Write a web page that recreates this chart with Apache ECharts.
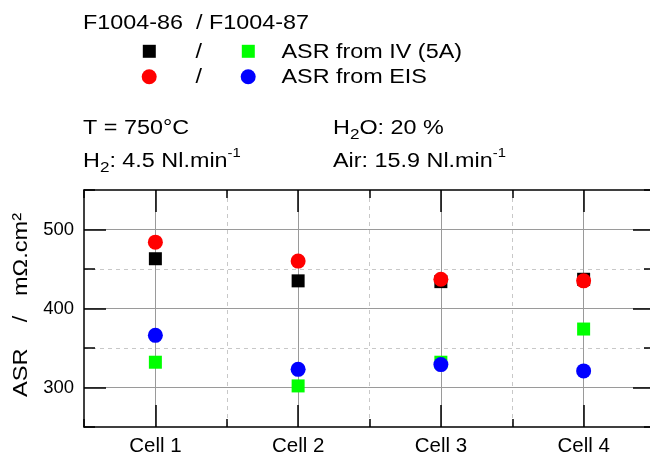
<!DOCTYPE html>
<html>
<head>
<meta charset="utf-8">
<script src="https://cdn.jsdelivr.net/npm/echarts@6/dist/echarts.min.js"></script>
<style>
  html, body { margin: 0; padding: 0; background: #fff; }
  #chart { width: 650px; height: 452px; }
</style>
</head>
<body>
<div id="chart"></div>
<script>
// Area specific resistance per cell, two stacks, two methods (mΩ·cm²)
const cells = ['Cell 1', 'Cell 2', 'Cell 3', 'Cell 4'];
const ivF86 = [463, 435, 434, 437];   // F1004-86, ASR from IV (5A)
const ivF87 = [332, 302, 332, 374];   // F1004-87, ASR from IV (5A)
const eisF86 = [484, 460, 437, 435];  // F1004-86, ASR from EIS
const eisF87 = [366, 323, 329, 321];  // F1004-87, ASR from EIS

// Value axis range and ticks
const yMin = 250, yMax = 550, yStep = 50;
const yTickValues = [250, 300, 350, 400, 450, 500, 550];
const yLabelValues = [300, 400, 500];
// Category band edges (for the dashed separators)
const bandEdges = [0, 4];

const FONT = '"Liberation Sans", Arial, Helvetica, sans-serif';
const AXIS = { color: '#000', width: 1.5 };
const SOLID_GRID = { color: '#9a9a9a', width: 1, type: 'solid' };
const DASH_GRID = { color: '#c8c8c8', width: 1, type: [4, 4] };
const TXT_SCALE = 1.14;

const isMajorY = (idx, val) => yLabelValues.indexOf(Number(val)) >= 0;
const off = { show: false };

const chart = echarts.init(document.getElementById('chart'), null, { renderer: 'canvas' });

// Grid lines live on their own axes (z 0) so the frame ticks (z 1) stay on top.
const xCat = (pos, z, extra) => Object.assign({
  type: 'category', position: pos, data: cells, boundaryGap: true, z: z,
  axisLine: { show: false, onZero: false }, axisTick: off, axisLabel: off, splitLine: off
}, extra);
const xEdge = (pos, z, extra) => Object.assign({
  type: 'value', position: pos, min: bandEdges[0], max: bandEdges[1], interval: 1, z: z,
  axisLine: { show: false, onZero: false }, axisTick: off, axisLabel: off, splitLine: off
}, extra);
const yVal = (pos, z, extra) => Object.assign({
  type: 'value', position: pos, min: yMin, max: yMax, interval: yStep, z: z,
  axisLine: { show: false, onZero: false }, axisTick: off, axisLabel: off, splitLine: off
}, extra);
const yCat = (pos, z, extra) => Object.assign({
  type: 'category', position: pos, data: yTickValues.map(String), boundaryGap: false, z: z,
  axisLine: { show: false, onZero: false }, axisTick: off, axisLabel: off, splitLine: off
}, extra);

const option = {
  backgroundColor: '#fff',
  animation: false,
  grid: { left: 84, right: -5, top: 190, bottom: 25, containLabel: false, outerBoundsMode: 'none' },
  xAxis: [
    xCat('bottom', 1, {
      axisLine: { show: true, onZero: false, lineStyle: AXIS },
      axisTick: { show: true, alignWithLabel: true, inside: true, length: 22, lineStyle: AXIS },
      axisLabel: { show: true, color: '#000', fontSize: 20.5, fontFamily: FONT, margin: 9 }
    }),
    xCat('bottom', 0, { splitLine: { show: true, alignWithLabel: true, lineStyle: SOLID_GRID } }),
    xEdge('bottom', 1, { axisTick: { show: true, inside: true, length: 8, lineStyle: AXIS } }),
    xEdge('bottom', 0, { splitLine: { show: true, showMinLine: false, showMaxLine: false, lineStyle: DASH_GRID } }),
    xCat('top', 1, {
      axisLine: { show: true, onZero: false, lineStyle: AXIS },
      axisTick: { show: true, alignWithLabel: true, inside: true, length: 22, lineStyle: AXIS }
    }),
    xEdge('top', 1, { axisTick: { show: true, inside: true, length: 8, lineStyle: AXIS } })
  ],
  yAxis: [
    yVal('left', 1, {
      axisLine: { show: true, onZero: false, lineStyle: AXIS },
      axisTick: { show: true, inside: true, length: 11, lineStyle: AXIS },
      axisLabel: {
        show: true, color: '#000', fontSize: 18.5, fontFamily: FONT, margin: 10,
        formatter: v => (yLabelValues.indexOf(v) >= 0 ? String(v) : '')
      }
    }),
    yVal('left', 0, { splitLine: { show: true, showMinLine: false, showMaxLine: false, lineStyle: DASH_GRID } }),
    yCat('left', 1, { axisTick: { show: true, inside: true, length: 22, interval: isMajorY, lineStyle: AXIS } }),
    yCat('left', 0, { splitLine: { show: true, interval: isMajorY, lineStyle: SOLID_GRID } }),
    yVal('right', 1, {
      axisLine: { show: true, onZero: false, lineStyle: AXIS },
      axisTick: { show: true, inside: true, length: 11, lineStyle: AXIS }
    }),
    yCat('right', 1, { axisTick: { show: true, inside: true, length: 22, interval: isMajorY, lineStyle: AXIS } })
  ],
  series: [
    { name: 'F1004-86 ASR from IV (5A)', type: 'scatter', data: ivF86, symbol: 'rect', symbolSize: 13,
      itemStyle: { color: '#000000', opacity: 1 }, z: 3 },
    { name: 'F1004-87 ASR from IV (5A)', type: 'scatter', data: ivF87, symbol: 'rect', symbolSize: 13,
      itemStyle: { color: '#00ff00', opacity: 1 }, z: 3 },
    { name: 'F1004-86 ASR from EIS', type: 'scatter', data: eisF86, symbol: 'circle', symbolSize: 15,
      itemStyle: { color: '#ff0000', opacity: 1 }, z: 4 },
    { name: 'F1004-87 ASR from EIS', type: 'scatter', data: eisF87, symbol: 'circle', symbolSize: 15,
      itemStyle: { color: '#0000ff', opacity: 1 }, z: 4 }
  ],
  graphic: [
    // legend block
    { type: 'text', x: 83, y: 23, scaleX: TXT_SCALE,
      style: { text: 'F1004-86  / F1004-87', fontSize: 20.5, fontFamily: FONT, fill: '#000', verticalAlign: 'middle' } },
    { type: 'rect', x: 149.3, y: 51.3, shape: { x: -6.5, y: -6.5, width: 13, height: 13 }, style: { fill: '#000000' } },
    { type: 'text', x: 198.7, y: 52, scaleX: TXT_SCALE,
      style: { text: '/', fontSize: 20.5, fontFamily: FONT, fill: '#000', align: 'center', verticalAlign: 'middle' } },
    { type: 'rect', x: 248.3, y: 51.3, shape: { x: -6.5, y: -6.5, width: 13, height: 13 }, style: { fill: '#00ff00' } },
    { type: 'text', x: 281.5, y: 52, scaleX: TXT_SCALE,
      style: { text: 'ASR from IV (5A)', fontSize: 20.5, fontFamily: FONT, fill: '#000', verticalAlign: 'middle' } },
    { type: 'circle', x: 149.2, y: 76.8, shape: { cx: 0, cy: 0, r: 7.5 }, style: { fill: '#ff0000' } },
    { type: 'text', x: 198.7, y: 77.5, scaleX: TXT_SCALE,
      style: { text: '/', fontSize: 20.5, fontFamily: FONT, fill: '#000', align: 'center', verticalAlign: 'middle' } },
    { type: 'circle', x: 248.2, y: 76.8, shape: { cx: 0, cy: 0, r: 7.5 }, style: { fill: '#0000ff' } },
    { type: 'text', x: 281.5, y: 77.5, scaleX: TXT_SCALE,
      style: { text: 'ASR from EIS', fontSize: 20.5, fontFamily: FONT, fill: '#000', verticalAlign: 'middle' } },

    // operating conditions
    { type: 'text', x: 83, y: 128, scaleX: TXT_SCALE,
      style: { text: 'T = 750°C', fontSize: 20.5, fontFamily: FONT, fill: '#000', verticalAlign: 'middle' } },
    { type: 'text', x: 333, y: 128, scaleX: TXT_SCALE,
      style: { text: 'H{sub|2}O: 20 %', fontSize: 20.5, fontFamily: FONT, fill: '#000', verticalAlign: 'middle',
        lineHeight: 28,
        rich: { sub: { fontSize: 15, lineHeight: 15, verticalAlign: 'bottom', fontFamily: FONT } } } },
    { type: 'text', x: 83, y: 161, scaleX: TXT_SCALE,
      style: { text: 'H{sub|2}: 4.5 Nl.min{sup|-1}', fontSize: 20.5, fontFamily: FONT, fill: '#000', verticalAlign: 'middle',
        lineHeight: 28,
        rich: {
          sub: { fontSize: 15, lineHeight: 15, verticalAlign: 'bottom', fontFamily: FONT },
          sup: { fontSize: 13, lineHeight: 17, verticalAlign: 'top', fontFamily: FONT }
        } } },
    { type: 'text', x: 333, y: 161, scaleX: TXT_SCALE,
      style: { text: 'Air: 15.9 Nl.min{sup|-1}', fontSize: 20.5, fontFamily: FONT, fill: '#000', verticalAlign: 'middle',
        lineHeight: 28,
        rich: { sup: { fontSize: 13, lineHeight: 17, verticalAlign: 'top', fontFamily: FONT } } } },

    // value axis title
    { type: 'text', x: 21, y: 305, rotation: Math.PI / 2, scaleX: 1.15,
      style: { text: 'ASR    /   mΩ.cm²', fontSize: 20.5, fontFamily: FONT, fill: '#000', align: 'center', verticalAlign: 'middle' } }
  ]
};

chart.setOption(option);
</script>
</body>
</html>
